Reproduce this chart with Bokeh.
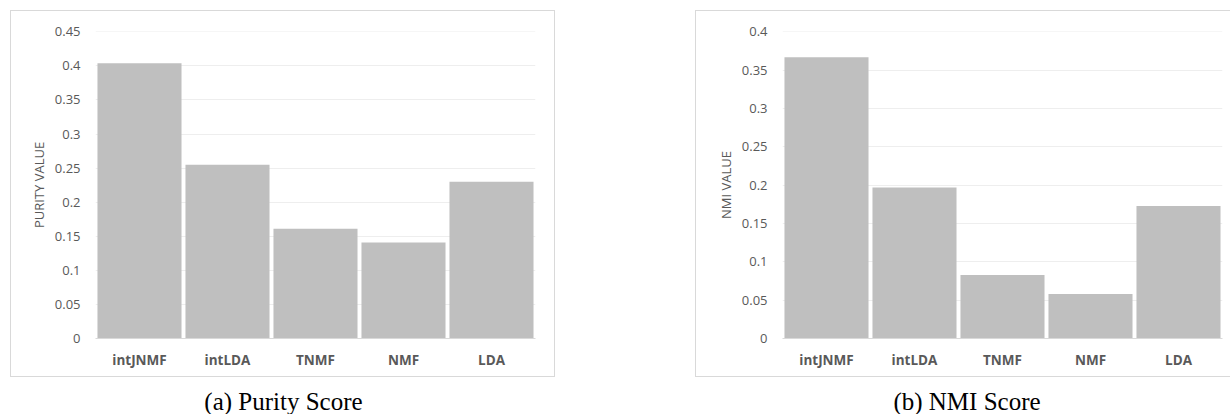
from bokeh.plotting import figure
from bokeh.models import FixedTicker, FactorRange, Range1d, Div
from bokeh.layouts import row, column
from bokeh.embed import file_html
from bokeh.resources import INLINE

methods = ["intJNMF", "intLDA", "TNMF", "NMF", "LDA"]
purity = [0.404, 0.255, 0.161, 0.141, 0.230]
nmi = [0.367, 0.197, 0.083, 0.058, 0.173]

purity_ticks = [0, 0.05, 0.1, 0.15, 0.2, 0.25, 0.3, 0.35, 0.4, 0.45]
purity_tick_labels = ["0", "0.05", "0.1", "0.15", "0.2", "0.25", "0.3", "0.35", "0.4", "0.45"]
nmi_ticks = [0, 0.05, 0.1, 0.15, 0.2, 0.25, 0.3, 0.35, 0.4]
nmi_tick_labels = ["0", "0.05", "0.1", "0.15", "0.2", "0.25", "0.3", "0.35", "0.4"]

TEXT = "#595959"
BAR = "#bfbfbf"
GRID = "#eeeeee"
FRAME = "#d9d9d9"


def panel(values, ticks, labels, ylabel, width, left, margin, styles):
    p = figure(x_range=FactorRange(*methods, range_padding=0),
               y_range=Range1d(0, ticks[-1] + 0.0005),
               width=width, height=367, output_backend="svg",
               toolbar_location=None,
               min_border_left=left, min_border_right=width - left - 440,
               min_border_top=20, min_border_bottom=40,
               margin=margin, styles=styles)
    p.outline_line_color = None
    p.background_fill_color = "white"
    p.border_fill_color = "white"
    p.vbar(x=methods, top=values, width=0.955, fill_color=BAR, line_color=None)

    p.xgrid.grid_line_color = None
    p.ygrid.grid_line_color = GRID
    p.ygrid.grid_line_width = 1
    p.yaxis.ticker = FixedTicker(ticks=ticks)
    p.yaxis.major_label_overrides = {t: l for t, l in zip(ticks, labels)}
    p.yaxis.axis_line_color = None
    p.yaxis.major_tick_line_color = None
    p.yaxis.major_tick_out = 0
    p.yaxis.minor_tick_line_color = None
    p.yaxis.minor_tick_out = 0
    p.yaxis.major_label_standoff = 15
    p.yaxis.major_label_text_font = "Open Sans"
    p.yaxis.major_label_text_font_size = "13px"
    p.yaxis.major_label_text_color = TEXT
    p.yaxis.axis_label = ylabel
    p.yaxis.axis_label_text_font = "Open Sans"
    p.yaxis.axis_label_text_font_size = "13px"
    p.yaxis.axis_label_text_font_style = "normal"
    p.yaxis.axis_label_text_color = TEXT
    p.yaxis.axis_label_standoff = 4

    p.xaxis.axis_line_color = FRAME
    p.xaxis.axis_line_width = 1
    p.xaxis.major_tick_line_color = None
    p.xaxis.major_tick_out = 0
    p.xaxis.minor_tick_line_color = None
    p.xaxis.minor_tick_out = 0
    p.xaxis.major_label_standoff = 12
    p.xaxis.major_label_text_font = "Open Sans"
    p.xaxis.major_label_text_font_size = "13.5px"
    p.xaxis.major_label_text_font_style = "bold"
    p.xaxis.major_label_text_color = TEXT
    return p


def caption(text, width, margin):
    return Div(text=text, width=width, height=25, margin=margin,
               styles={"font-family": "Liberation Serif", "font-size": "25px",
                       "line-height": "25px", "text-align": "center",
                       "color": "black", "white-space": "nowrap",
                       "overflow": "hidden"})


p1 = panel(purity, purity_ticks, purity_tick_labels, "PURITY VALUE", 545, 84,
           (10, 0, 0, 10), {"border": "1px solid #d9d9d9", "background": "white"})
p2 = panel(nmi, nmi_ticks, nmi_tick_labels, "NMI VALUE", 535, 86,
           (10, 0, 0, 138), {"border": "1px solid #d9d9d9", "border-right": "0px",
                             "background": "white"})

c1 = caption("(a) Purity Score", 547, (12, 0, 0, 10))
c2 = caption("(b) NMI Score", 544, (12, 0, 0, 138))

layout = row(column(p1, c1), column(p2, c2))
open("out.html", "w").write(file_html(layout, INLINE))
